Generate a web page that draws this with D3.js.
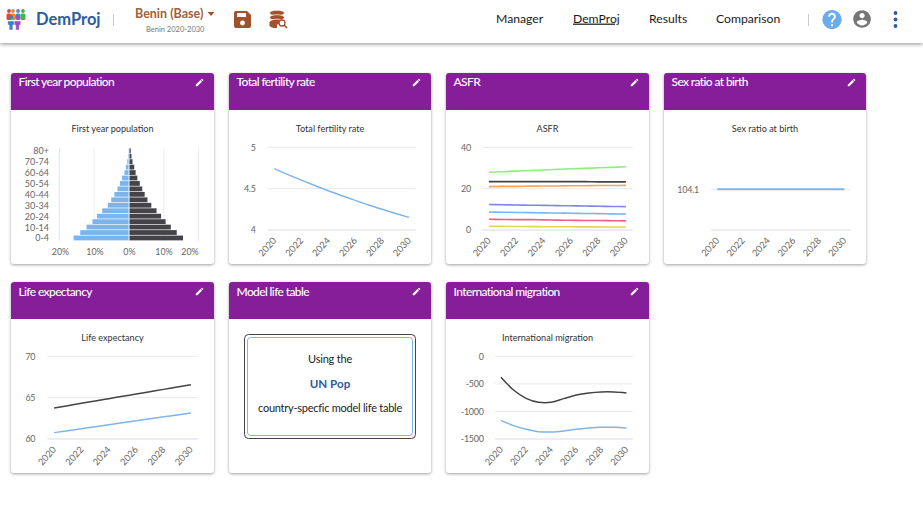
<!DOCTYPE html>
<html><head><meta charset="utf-8">
<script src="https://cdn.jsdelivr.net/npm/d3@7"></script>
<style>
html,body{margin:0;padding:0;background:#fff;overflow:hidden}
svg{display:block;font-family:Lato,sans-serif}
.card{filter:drop-shadow(0 1px 1.5px rgba(0,0,0,.38))}
</style></head><body>
<svg id="page" width="923" height="513"></svg>
<script>
const years = [2020,2021,2022,2023,2024,2025,2026,2027,2028,2029,2030];
const ageGroups = ["0-4","5-9","10-14","15-19","20-24","25-29","30-34","35-39","40-44","45-49","50-54","55-59","60-64","65-69","70-74","75-79","80+"];
const popMale = [15.9,14,12.2,10.5,9.2,7.7,6.1,5.1,4.2,3.3,2.6,2,1.3,.9,.5,.3,.2];
const popFemale = [15.5,13.7,12,10.5,9.2,7.9,6.4,5.3,4.5,3.8,3.1,2.4,1.9,1.5,1,.7,.5];
const tfr = [4.74,4.67,4.603,4.538,4.475,4.416,4.358,4.302,4.25,4.2,4.153];
const asfrGreen = [27.9,28.2,28.5,28.8,29,29.3,29.6,29.8,30.1,30.3,30.6];
const asfrBlack = [23.4,23.4,23.4,23.4,23.4,23.4,23.4,23.4,23.3,23.3,23.3];
const asfrOrange = [21,21.1,21.1,21.2,21.3,21.3,21.4,21.4,21.5,21.5,21.6];
const asfrPurple = [12.3,12.2,12.1,12,11.9,11.8,11.7,11.6,11.5,11.4,11.3];
const asfrBlue = [8.7,8.6,8.5,8.4,8.3,8.2,8.1,8,7.9,7.8,7.7];
const asfrPink = [5.2,5.1,5,5,4.9,4.8,4.7,4.6,4.6,4.5,4.4];
const asfrYellow = [1.8,1.75,1.7,1.65,1.6,1.6,1.55,1.5,1.5,1.45,1.45];
const srb = [104.1,104.1,104.1,104.1,104.1,104.1,104.1,104.1,104.1,104.1,104.1];
const lifeMale = [60.77,61.01,61.25,61.49,61.72,61.96,62.2,62.44,62.68,62.91,63.15];
const lifeFemale = [63.75,64.03,64.31,64.6,64.88,65.16,65.44,65.72,66,66.29,66.57];
const migFemale = [-381,-611,-762,-835,-835,-768,-702,-665,-647,-647,-665];
const migMale = [-1161,-1258,-1325,-1367,-1373,-1355,-1325,-1300,-1288,-1288,-1300];
const navItems = ["Manager","DemProj","Results","Comparison"];
const cardTitles = ["First year population","Total fertility rate","ASFR","Sex ratio at birth","Life expectancy","Model life table","International migration"];

const BLUE="#7cb5ec",DARK="#434348",GREEN="#90ed7d",ORANGE="#f7a35c",PURPLE="#8085e9",PINK="#f15c80",YELLOW="#e4d354";
const svg=d3.select("#page");
const PENCIL="M3 17.25V21h3.75L17.81 9.94l-3.75-3.75L3 17.25zM20.71 7.04c.39-.39.39-1.02 0-1.41l-2.34-2.34c-.39-.39-1.02-.39-1.41 0l-1.83 1.83 3.75 3.75 1.83-1.83z";

/* header */
svg.append("rect").attr("width",923).attr("height",513).attr("fill","#fff");
const head=svg.append("g");
head.append("rect").attr("width",923).attr("height",43).attr("fill","#fff").style("filter","drop-shadow(0 1px 2px rgba(0,0,0,.45))");
const txt=(g,s,x,y,o={})=>g.append("text").text(s).attr("x",x).attr("y",y).attr("font-size",o.size||12).attr("font-weight",o.w||400).attr("fill",o.c||"#222").attr("text-anchor",o.a||"start").attr("dominant-baseline","middle").attr("letter-spacing",o.ls||0);
const logoTop=[[8,"#d9483b"],[12,"#e98a3a"],[17,"#3f8fd6"],[22,"#4caf50"]];
logoTop.forEach(p=>{head.append("circle").attr("cx",p[0]+1).attr("cy",11).attr("r",1.9).attr("fill",p[1]);
 head.append("rect").attr("x",p[0]-1.5).attr("y",13.5).attr("width",5).attr("height",6.5).attr("rx",1.5).attr("fill",p[1]);});
[[11,"#3f7fc0"],[17.5,"#9c4fc4"]].forEach(p=>{head.append("circle").attr("cx",p[0]).attr("cy",17).attr("r",2.2).attr("fill",p[1]);
 head.append("path").attr("d",`M${p[0]-3.2} 21h6.4v4h-1.4v5h-3.6v-5h-1.4z`).attr("fill",p[1]).attr("stroke","#fff").attr("stroke-width",.4);});
txt(head,"DemProj",36,20.5,{size:16.5,w:700,c:"#2c5ba6"});
head.append("line").attr("x1",113.5).attr("x2",113.5).attr("y1",14).attr("y2",26).attr("stroke","#ccc");
txt(head,"Benin (Base)",135,14.5,{size:12.5,w:700,c:"#a0603a"});
txt(head,"Benin 2020-2030",146,30.5,{size:7.5,c:"#777"});
head.append("path").attr("d","M207.5 12h7l-3.5 4z").attr("fill","#a0522d");
head.append("path").attr("d","M236 11h11l4 4v11a2 2 0 0 1-2 2h-13a2 2 0 0 1-2-2v-13a2 2 0 0 1 2-2z").attr("fill","#a0522d");
head.append("rect").attr("x",237).attr("y",13).attr("width",9).attr("height",4).attr("fill","#fff");
head.append("circle").attr("cx",242.5).attr("cy",23).attr("r",2.4).attr("fill","#fff");
[13,17.5,22].forEach(y=>head.append("ellipse").attr("cx",277).attr("cy",y).attr("rx",7.5).attr("ry",2.8).attr("fill","#a0522d").attr("stroke","#fff").attr("stroke-width",.7));
head.append("path").attr("d","M269.5 22v3.5c0 1.5 3.4 2.6 7.5 2.6V22z").attr("fill","#a0522d");
head.append("circle").attr("cx",282).attr("cy",23).attr("r",3).attr("fill","#fff").attr("stroke","#a0522d").attr("stroke-width",1.3);
head.append("line").attr("x1",284).attr("y1",25).attr("x2",287).attr("y2",28).attr("stroke","#a0522d").attr("stroke-width",1.6);
const navX=[496,573,649,716];
navItems.forEach((n,i)=>{const t=txt(head,n,navX[i],19.5,{size:12.2,c:"#1a1a1a"}); if(i==1)t.attr("text-decoration","underline");});
head.append("line").attr("x1",808.5).attr("x2",808.5).attr("y1",14).attr("y2",26).attr("stroke","#ccc");
head.append("path").attr("d","M12 2C6.48 2 2 6.48 2 12s4.48 10 10 10 10-4.48 10-10S17.52 2 12 2zm1 17h-2v-2h2v2zm2.07-7.75l-.9.92C13.45 12.9 13 13.5 13 15h-2v-.5c0-1.1.45-2.1 1.17-2.83l1.24-1.26c.37-.36.59-.86.59-1.41 0-1.1-.9-2-2-2s-2 .9-2 2H8c0-2.21 1.79-4 4-4s4 1.79 4 4c0 .88-.36 1.68-.93 2.25z").attr("transform","translate(820.5,8) scale(.96)").attr("fill","#6aaced");
head.append("path").attr("d","M12 2C6.48 2 2 6.48 2 12s4.48 10 10 10 10-4.48 10-10S17.52 2 12 2zm0 3c1.66 0 3 1.34 3 3s-1.34 3-3 3-3-1.34-3-3 1.34-3 3-3zm0 14.2c-2.5 0-4.71-1.28-6-3.22.03-1.99 4-3.08 6-3.08 1.99 0 5.97 1.09 6 3.08-1.29 1.94-3.5 3.22-6 3.22z").attr("transform","translate(851.5,8.5) scale(.88)").attr("fill","#757575");
[13,19.5,26].forEach(y=>head.append("circle").attr("cx",895.5).attr("cy",y).attr("r",1.9).attr("fill","#2c5ba6"));

/* cards */
const cardX=[11,229,446,664,11,229,446], cardW=[203,202,203,202,203,202,203], cardY=[73,73,73,73,282,282,282];
cardTitles.forEach((t,i)=>{
 const g=svg.append("g").attr("transform",`translate(${cardX[i]},${cardY[i]})`);
 const w=cardW[i],h=191;
 g.append("rect").attr("class","card").attr("width",w).attr("height",h).attr("rx",3).attr("fill","#fff");
 g.append("path").attr("d",`M0 37V3a3 3 0 0 1 3-3H${w-3}a3 3 0 0 1 3 3V37z`).attr("fill","#861e99");
 txt(g,t,7.5,i>3?10.5:9.5,{size:12,w:500,c:"#fff",ls:-.62});
 g.append("path").attr("d",PENCIL).attr("fill","#fff").attr("transform",`translate(${w-19.5},4.5) scale(.42)`);
});
const chartTitle=(x,y,s)=>txt(svg,s,x,y,{size:9.1,c:"#333",a:"middle"});

function lineChart(o){
 chartTitle(o.cx,o.titleY,o.title);
 const g=svg.append("g");
 const x=d3.scaleBand().domain(years).range([o.x0,o.x1]);
 const y=d3.scaleLinear().domain(o.domain).range([o.yb,o.yt]);
 o.ticks.forEach(t=>{
  g.append("line").attr("x1",o.x0).attr("x2",o.x1).attr("y1",y(t)).attr("y2",y(t)).attr("stroke",t===o.domain[0]?"#e6e6f2":"#e9e9e9").attr("stroke-width",t===o.domain[0]?1.3:1);
 });
 o.labels.forEach(t=>txt(g,o.fmt?o.fmt(t):t,o.x0-o.lab,y(t)+1.2,{size:8.9,c:"#666",a:"end",ls:-.2}));
 years.filter(v=>v%2===0).forEach(v=>{
  const px=x(v)+x.bandwidth()/2;
  g.append("text").text(v).attr("transform",`translate(${px+.8},${o.yb+9.5}) rotate(-48)`).attr("text-anchor","end").attr("dominant-baseline","middle").attr("font-size",9.3).attr("fill","#666");
 });
 const line=d3.line().x((d,i)=>x(years[i])+x.bandwidth()/2).y(d=>y(d)).curve(o.curve||d3.curveMonotoneX);
 o.series.forEach(s=>g.append("path").attr("d",line(s[0])).attr("fill","none").attr("stroke",s[1]).attr("stroke-width",o.sw||1.5));
}
lineChart({title:cardTitles[1],cx:330,titleY:129.5,x0:267.7,x1:415.7,yb:230,yt:147.3,domain:[4,5],ticks:[4,4.5,5],labels:[4,4.5,5],lab:12,series:[[tfr,BLUE]]});
lineChart({title:cardTitles[2],cx:547.5,titleY:129.5,x0:482,x1:632.7,yb:230,yt:147.3,domain:[0,40],ticks:[0,20,40],labels:[0,20,40],lab:11,sw:1.6,
 series:[[asfrGreen,GREEN],[asfrBlack,DARK],[asfrOrange,ORANGE],[asfrPurple,PURPLE],[asfrBlue,BLUE],[asfrPink,PINK],[asfrYellow,YELLOW]]});
lineChart({title:cardTitles[3],cx:765,titleY:129.5,x0:711,x1:850.7,yb:230,yt:148.5,domain:[104,104.2],ticks:[104,104.1],labels:[104.1],lab:12,sw:2,fmt:d=>d.toFixed(1),series:[[srb,BLUE]]});
lineChart({title:cardTitles[4],cx:112.5,titleY:338.5,x0:47.3,x1:197.7,yb:439,yt:356.3,domain:[60,70],ticks:[60,65,70],labels:[60,65,70],lab:12,series:[[lifeFemale,DARK],[lifeMale,BLUE]]});
lineChart({title:cardTitles[6],cx:547.5,titleY:338.5,x0:494.7,x1:632.7,yb:439,yt:356.3,domain:[-1500,0],ticks:[-1500,-1000,-500,0],labels:[-1500,-1000,-500,0],lab:11,curve:d3.curveCatmullRom,series:[[migFemale,DARK],[migMale,BLUE]]});

/* pyramid */
(function(){
 chartTitle(112.5,129.5,cardTitles[0]);
 const g=svg.append("g");
 const x=d3.scaleLinear().domain([-20,20]).range([59.3,198.7]);
 const y=d3.scaleBand().domain(ageGroups).range([240.7,148]).paddingInner(.12).paddingOuter(.06);
 [-20,-10,0,10,20].forEach(t=>g.append("line").attr("x1",x(t)).attr("x2",x(t)).attr("y1",148).attr("y2",241).attr("stroke",t==-20?"#dde3ee":"#ececec"));
 g.selectAll(".m").data(ageGroups).join("rect").attr("x",(d,i)=>x(-popMale[i])).attr("y",d=>y(d)).attr("width",(d,i)=>x(0)-x(-popMale[i])-.5).attr("height",y.bandwidth()).attr("fill",BLUE);
 g.selectAll(".f").data(ageGroups).join("rect").attr("x",x(0)+.5).attr("y",d=>y(d)).attr("width",(d,i)=>x(popFemale[i])-x(0)-.5).attr("height",y.bandwidth()).attr("fill",DARK);
 ageGroups.forEach((a,i)=>{if(i%2==0)txt(g,a,49,y(a)+y.bandwidth()/2+1.2,{size:9,c:"#666",a:"end"});});
 const tl=[["20%",60.5],["10%",95],["0%",129.5],["10%",164],["20%",190]];
 tl.forEach(t=>txt(g,t[0],t[1],252.5,{size:8.9,c:"#666",a:"middle"}));
})();

/* model life table */
svg.append("rect").attr("x",244.5).attr("y",334.5).attr("width",171).attr("height",104).attr("rx",4).attr("fill","#fff").attr("stroke","#444").attr("stroke-width",1);
svg.append("rect").attr("x",247.5).attr("y",337.5).attr("width",165).attr("height",98).attr("rx",3).attr("fill","#fff").attr("stroke",BLUE).attr("stroke-width",1);
txt(svg,"Using the",330,360.5,{size:11,c:"#222",a:"middle",ls:-.2});
txt(svg,"UN Pop",330,385.5,{size:11.6,w:700,c:"#2c5ba6",a:"middle"});
txt(svg,"country-specfic model life table",330,409.5,{size:11,c:"#222",a:"middle",ls:-.25});
</script>
</body></html>
